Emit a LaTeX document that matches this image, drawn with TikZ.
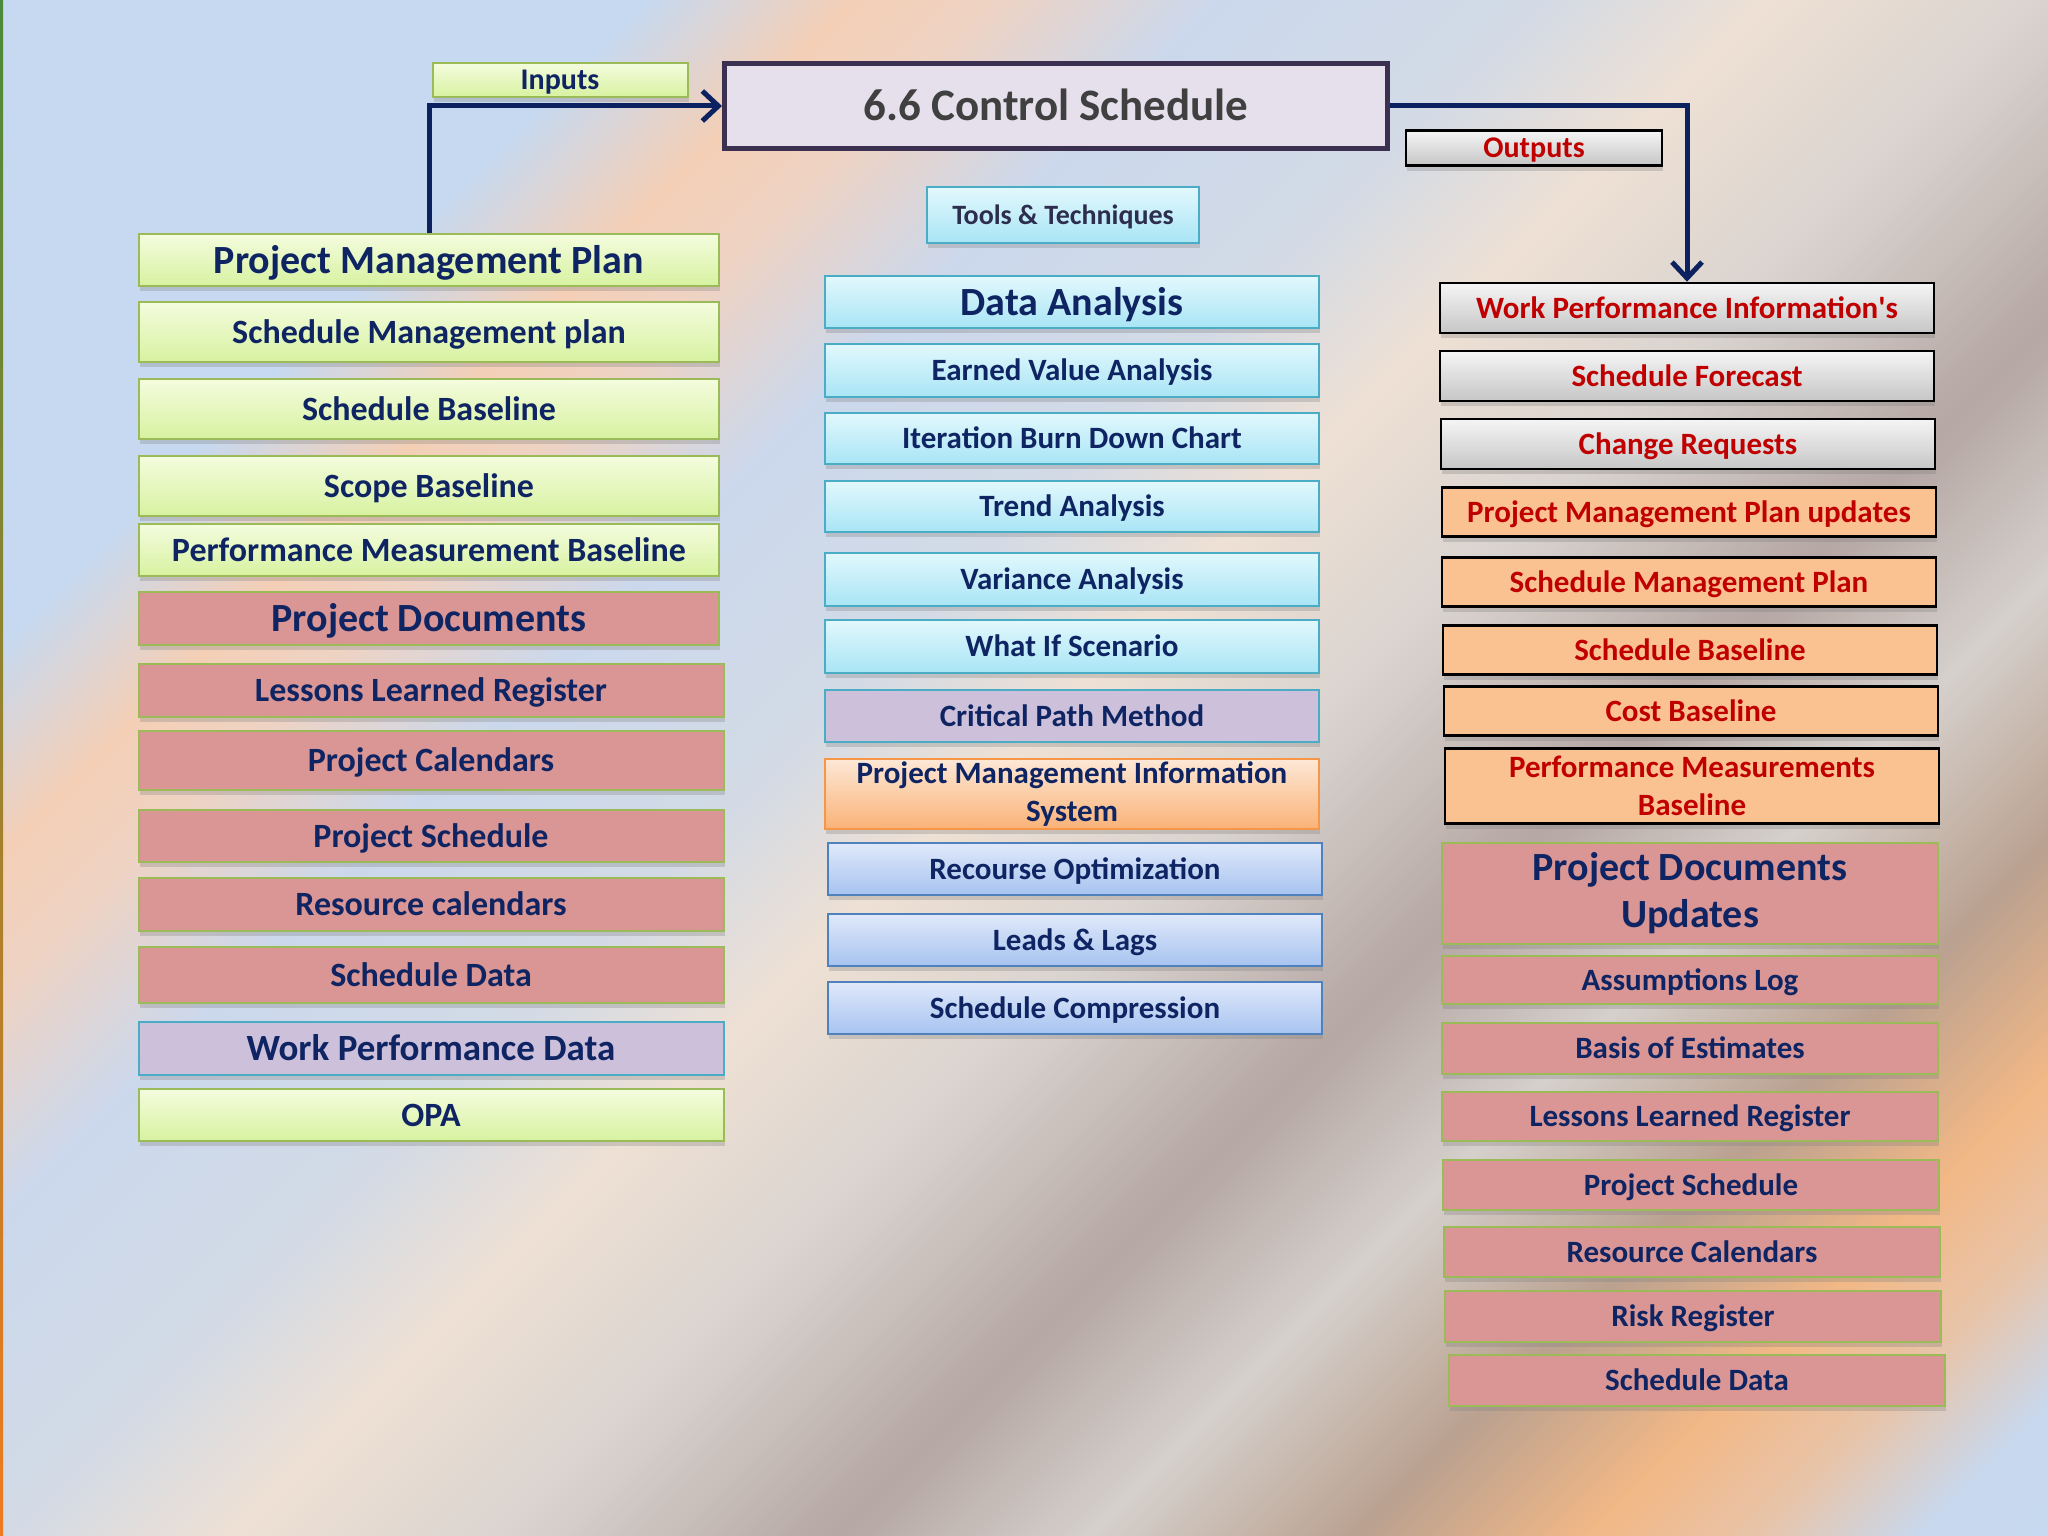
\documentclass[tikz,border=0pt]{standalone}
\usepackage{fontspec}
\setmainfont{Carlito}
\usetikzlibrary{arrows.meta,shadows}

\definecolor{navy}{HTML}{0F2462}
\definecolor{outred}{HTML}{C00000}
\definecolor{flowblue}{HTML}{0C2260}
\definecolor{inTop}{HTML}{F4FCDE}
\definecolor{inBot}{HTML}{D7F2A0}
\definecolor{inLine}{HTML}{9BBB59}
\definecolor{docPink}{HTML}{D99694}
\definecolor{wpdLav}{HTML}{CCC0DA}
\definecolor{ttLine}{HTML}{4BACC6}
\definecolor{ttTop}{HTML}{E2F8FD}
\definecolor{ttBot}{HTML}{A9E5F5}
\definecolor{pmisTop}{HTML}{FDE8D6}
\definecolor{pmisBot}{HTML}{FAB277}
\definecolor{pmisLine}{HTML}{F79646}
\definecolor{optTop}{HTML}{E0E9FA}
\definecolor{optBot}{HTML}{A7C3F0}
\definecolor{optLine}{HTML}{4F81BD}
\definecolor{grayTop}{HTML}{F5F5F5}
\definecolor{grayBot}{HTML}{C6C6C6}
\definecolor{peach}{HTML}{FAC191}
\definecolor{titleFill}{HTML}{E6E0EC}
\definecolor{titleLine}{HTML}{3C3050}
\definecolor{titleText}{HTML}{404040}
\definecolor{toolText}{HTML}{2D2D4D}
\definecolor{edgeGreen}{HTML}{4A8A3A}
\definecolor{edgeBlue}{HTML}{2A4AA0}
\definecolor{edgeOrange}{HTML}{F07A20}

\definecolor{bgA}{HTML}{C6D9F0}
\definecolor{bgB}{HTML}{F4CFB6}
\definecolor{bgC}{HTML}{EED3C4}
\definecolor{bgD}{HTML}{CBD8EC}
\definecolor{bgE}{HTML}{D2DAE6}
\definecolor{bgF}{HTML}{EEE0D4}
\definecolor{bgG}{HTML}{D9D3CF}
\definecolor{bgH}{HTML}{B5A7A3}
\definecolor{bgI}{HTML}{D5D0CC}
\definecolor{bgJ}{HTML}{BAA190}
\definecolor{bgK}{HTML}{F2B886}
\definecolor{bgL}{HTML}{E8C4A8}
\definecolor{bgM}{HTML}{C8D8EE}

\pgfdeclarehorizontalshading{backdrop}{100bp}{color(0bp)=(bgA); color(34.29bp)=(bgA);
  color(37.17bp)=(bgB); color(39.10bp)=(bgC); color(42.17bp)=(bgD); color(46.40bp)=(bgE);
  color(49.67bp)=(bgF); color(53.52bp)=(bgG); color(57.94bp)=(bgH); color(61.40bp)=(bgI);
  color(65.06bp)=(bgJ); color(68.23bp)=(bgK); color(70.44bp)=(bgL); color(72.75bp)=(bgM);
  color(74.87bp)=(bgA); color(100bp)=(bgA)}

\begin{document}
\begin{tikzpicture}[x=1pt,y=-1pt,
  box/.style={rectangle, draw, line width=2pt, inner sep=0pt, align=center, text=navy,
    drop shadow={shadow xshift=1pt, shadow yshift=-5pt, opacity=.3}},
  oneline/.style={text height=#1, text depth=0pt},
  fbig/.style={font=\bfseries\fontsize{40}{47}\selectfont},
  fmid/.style={font=\bfseries\fontsize{34}{41}\selectfont},
  fsm/.style={font=\bfseries\fontsize{31}{38}\selectfont},
  infill/.style={draw=inLine, top color=inTop, bottom color=inBot},
  docfill/.style={draw=inLine, fill=docPink},
  wpdfill/.style={draw=ttLine, fill=wpdLav},
  ttfill/.style={draw=ttLine, top color=ttTop, bottom color=ttBot},
  pmisfill/.style={draw=pmisLine, top color=pmisTop, bottom color=pmisBot},
  optfill/.style={draw=optLine, top color=optTop, bottom color=optBot},
  outgray/.style={draw=black, line width=2.5pt, top color=grayTop, bottom color=grayBot, text=outred},
  outpeach/.style={draw=black, line width=2.5pt, fill=peach, text=outred},
  flow/.style={draw=flowblue, line width=5pt, -{Straight Barb[length=16pt,width=30pt]}}]

\useasboundingbox (0,0) rectangle (2048,1536);
\begin{scope}
\clip (0,0) rectangle (2048,1536);
\shade[shading=backdrop, shading angle=-45] (-276,-532) rectangle (2324,2068);
\end{scope}
\shade[top color=edgeGreen, middle color=edgeBlue, bottom color=edgeOrange] (0,0) rectangle (3,1536);

\node[draw=titleLine, line width=5pt, fill=titleFill, text=titleText, inner sep=0pt,
  font=\bfseries\fontsize{45}{54}\selectfont, oneline=29pt,
  minimum width=663pt, minimum height=85pt] (title) at (1056,106) {6.6 Control Schedule};
\node[box, infill, font=\bfseries\fontsize{30}{36}\selectfont, oneline=19pt,
  minimum width=255pt, minimum height=34pt] (inlbl) at (560,80) {Inputs};
\node[box, outgray, font=\bfseries\fontsize{30}{36}\selectfont, oneline=19pt,
  minimum width=256pt, minimum height=35pt] (outlbl) at (1534,148) {Outputs};
\node[box, ttfill, line width=2.5pt, text=toolText, font=\bfseries\fontsize{28}{34}\selectfont,
  oneline=18pt, minimum width=272pt, minimum height=56pt] (tools) at (1063,215) {Tools \& Techniques};

\node[box, infill, fbig, oneline=26pt, minimum width=580pt, minimum height=52pt] (pmp) at (429,260) {Project Management Plan};
\foreach \nm/\y/\h/\txt in {smp/332/60/Schedule Management plan, sbl/409/60/Schedule Baseline,
  scb/486/60/Scope Baseline, pmb/550/52/Performance Measurement Baseline}
  \node[box, infill, fmid, oneline=22pt, minimum width=580pt, minimum height=\h pt] (\nm) at (429,\y) {\txt};
\node[box, docfill, fbig, oneline=26pt, minimum width=580pt, minimum height=53pt] (pd) at (429,618) {Project Documents};
\foreach \nm/\y/\h/\txt in {llr/690/53/Lessons Learned Register, pcal/760/59/Project Calendars,
  psch/836/52/Project Schedule, rcal/904/53/Resource calendars, sdat/975/56/Schedule Data}
  \node[box, docfill, fmid, oneline=22pt, minimum width=585pt, minimum height=\h pt] (\nm) at (431,\y) {\txt};
\node[box, wpdfill, font=\bfseries\fontsize{37}{44}\selectfont, oneline=24pt,
  minimum width=585pt, minimum height=53pt] (wpd) at (431,1048) {Work Performance Data};
\node[box, infill, fmid, oneline=22pt, minimum width=585pt, minimum height=52pt] (opa) at (431,1115) {OPA};

\node[box, ttfill, fbig, oneline=26pt, minimum width=494pt, minimum height=52pt] (da) at (1072,302) {Data Analysis};
\foreach \nm/\y/\h/\txt in {eva/370/53/Earned Value Analysis, ibd/438/51/Iteration Burn Down Chart,
  tra/506/51/Trend Analysis, vara/579/53/Variance Analysis, wis/646/53/What If Scenario}
  \node[box, ttfill, fsm, oneline=20pt, minimum width=494pt, minimum height=\h pt] (\nm) at (1072,\y) {\txt};
\node[box, wpdfill, fsm, oneline=20pt, minimum width=494pt, minimum height=52pt] (cpm) at (1072,716) {Critical Path Method};
\node[box, pmisfill, fsm, minimum width=494pt, minimum height=70pt] (pmis) at (1072,794) {Project Management Information\\System};
\foreach \nm/\y/\txt in {ro/869/Recourse Optimization, ll/940/Leads \& Lags, scmp/1008/Schedule Compression}
  \node[box, optfill, fsm, oneline=20pt, minimum width=494pt, minimum height=52pt] (\nm) at (1075,\y) {\txt};

\foreach \nm/\x/\y/\txt in {wpi/1687/308/Work Performance Information\textquotesingle s, sfc/1687/376/Schedule Forecast,
  crq/1688/444/Change Requests}
  \node[box, outgray, fsm, oneline=20pt, minimum width=494pt, minimum height=50pt] (\nm) at (\x,\y) {\txt};
\foreach \nm/\x/\y/\txt in {pmpu/1689/512/Project Management Plan updates, smpu/1689/582/Schedule Management Plan,
  sblu/1690/650/Schedule Baseline, cblu/1691/711/Cost Baseline}
  \node[box, outpeach, fsm, oneline=20pt, minimum width=494pt, minimum height=49pt] (\nm) at (\x,\y) {\txt};
\node[box, outpeach, fsm, minimum width=494pt, minimum height=75pt] (pmbu) at (1692,786) {Performance Measurements\\Baseline};
\node[box, docfill, fbig, minimum width=496pt, minimum height=101pt] (pdu) at (1690,893) {Project Documents\\Updates};
\foreach \nm/\x/\y/\h/\txt in {alog/1690/980/48/Assumptions Log, boe/1690/1048/51/Basis of Estimates,
  llru/1690/1116/49/Lessons Learned Register, psu/1691/1185/50/Project Schedule,
  rcu/1692/1252/50/Resource Calendars, rreg/1693/1316/51/Risk Register, sdu/1697/1380/51/Schedule Data}
  \node[box, docfill, fsm, oneline=20pt, minimum width=496pt, minimum height=\h pt] (\nm) at (\x,\y) {\txt};

\draw[flow] (pmp.north) |- (title.west);
\draw[flow] (title.east) -| (wpi.north);
\end{tikzpicture}
\end{document}
